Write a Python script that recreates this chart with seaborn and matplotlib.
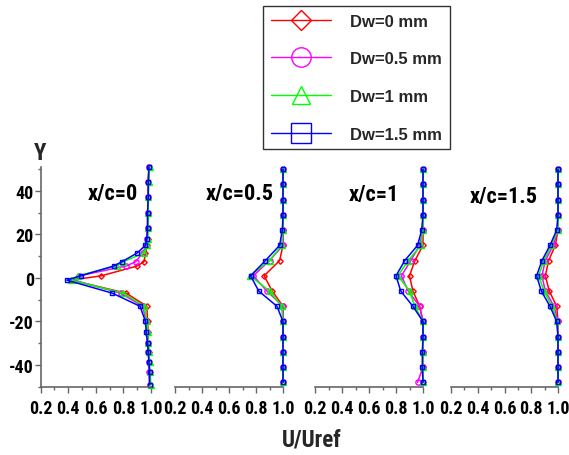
import numpy as np
import pandas as pd
import matplotlib
matplotlib.use("Agg")
import matplotlib.pyplot as plt
import seaborn as sns
from matplotlib import font_manager as fm
from matplotlib.lines import Line2D
from matplotlib.ticker import MultipleLocator, FixedLocator

# ---------------- data ----------------
series_labels = ["Dw=0 mm", "Dw=0.5 mm", "Dw=1 mm", "Dw=1.5 mm"]
series_colors = ["#ff0000", "#ff00ff", "#00ff00", "#0000ff"]
series_markers = ["D", "o", "^", "s"]
panel_titles = ["x/c=0", "x/c=0.5", "x/c=1", "x/c=1.5"]
x_ticks = [0.2, 0.4, 0.6, 0.8, 1.0]
x_tick_labels = ["0.2", "0.4", "0.6", "0.8", "1.0"]
y_ticks = [-40, -20, 0, 20, 40]

# Y positions (panel x/c=0 is sampled more densely in the wake)
y_p0 = [51, 44, 37, 30, 23, 18, 15, 11.5, 7.5, 5.5, 1, -1, -7, -13, -20, -25, -30, -34, -38.5, -43, -49]
y_pn = [50, 43, 36, 29, 22, 15, 8, 1, -6, -13, -20, -27, -34, -41, -48]

# x/c = 0
u0_dw0 = [0.985, 0.98, 0.98, 0.98, 0.975, 0.975, 0.97, 0.96, 0.95, 0.90, 0.64, 0.42, 0.82, 0.97, 0.975, 0.98, 0.98, 0.985, 0.985, 0.99, 0.99]
u0_dw05 = [0.985, 0.98, 0.98, 0.975, 0.975, 0.97, 0.965, 0.94, 0.89, 0.82, 0.48, 0.44, 0.78, 0.94, 0.965, 0.97, 0.975, 0.98, 0.985, 0.985, 0.99]
u0_dw1 = [0.99, 0.985, 0.98, 0.98, 0.98, 0.975, 0.97, 0.95, 0.80, 0.75, 0.47, 0.42, 0.80, 0.95, 0.97, 0.975, 0.98, 0.985, 0.99, 0.99, 1.0]
u0_dw15 = [0.985, 0.98, 0.98, 0.975, 0.975, 0.97, 0.96, 0.90, 0.79, 0.73, 0.49, 0.39, 0.72, 0.92, 0.96, 0.965, 0.975, 0.98, 0.985, 0.99, 0.99]

# x/c = 0.5
u05_dw0 = [1.0, 1.0, 1.0, 1.0, 1.0, 1.0, 0.975, 0.86, 0.92, 1.0, 1.0, 1.0, 1.0, 1.0, 1.0]
u05_dw05 = [1.0, 1.0, 1.0, 1.0, 1.0, 1.0, 0.90, 0.78, 0.88, 1.0, 1.0, 1.0, 1.0, 1.0, 1.0]
u05_dw1 = [1.0, 1.0, 1.0, 1.0, 1.0, 0.99, 0.90, 0.755, 0.90, 0.99, 1.0, 1.0, 1.0, 1.0, 1.0]
u05_dw15 = [1.0, 1.0, 1.0, 1.0, 0.995, 0.975, 0.87, 0.76, 0.82, 0.955, 1.0, 1.0, 1.0, 1.0, 1.0]

# x/c = 1
u1_dw0 = [1.0, 1.0, 1.0, 1.0, 1.0, 1.0, 0.94, 0.90, 0.925, 0.975, 1.0, 1.0, 1.0, 1.0, 1.0]
u1_dw05 = [1.0, 1.0, 1.0, 1.0, 1.0, 0.975, 0.91, 0.84, 0.89, 0.975, 1.0, 1.0, 1.0, 1.0, 0.96]
u1_dw1 = [1.0, 1.0, 1.0, 1.0, 1.0, 0.985, 0.89, 0.815, 0.90, 0.94, 1.0, 1.0, 1.0, 1.0, 1.0]
u1_dw15 = [1.0, 1.0, 1.0, 1.0, 0.99, 0.96, 0.865, 0.80, 0.835, 0.925, 1.0, 1.0, 0.995, 0.995, 1.0]

# x/c = 1.5
u15_dw0 = [1.0, 1.0, 1.0, 1.0, 1.0, 0.98, 0.93, 0.905, 0.935, 0.99, 1.0, 1.0, 1.0, 1.0, 1.0]
u15_dw05 = [1.0, 1.0, 1.0, 1.0, 1.0, 0.965, 0.905, 0.88, 0.905, 0.97, 1.0, 1.0, 1.0, 1.0, 1.0]
u15_dw1 = [1.0, 1.0, 1.0, 1.0, 1.0, 0.95, 0.895, 0.855, 0.895, 0.955, 0.995, 1.0, 1.0, 1.0, 1.0]
u15_dw15 = [1.0, 1.0, 1.0, 1.0, 0.99, 0.94, 0.88, 0.84, 0.875, 0.94, 0.99, 1.0, 1.0, 1.0, 1.0]

panels = [
    (y_p0, [u0_dw0, u0_dw05, u0_dw1, u0_dw15]),
    (y_pn, [u05_dw0, u05_dw05, u05_dw1, u05_dw15]),
    (y_pn, [u1_dw0, u1_dw05, u1_dw1, u1_dw15]),
    (y_pn, [u15_dw0, u15_dw05, u15_dw1, u15_dw15]),
]

# ---------------- style ----------------
sns.set_theme(style="ticks")


def _is_bold(w):
    if isinstance(w, (int, float)):
        return w >= 700
    return str(w).lower() in ("bold", "heavy", "black", "extra bold", "demibold", "700", "800", "900")


bold_names = {f.name for f in fm.fontManager.ttflist if _is_bold(f.weight) and f.style == "normal"}
NARROW = "Liberation Sans"
for cand in ["Liberation Sans Narrow", "Arial Narrow", "Roboto Condensed", "PT Sans Narrow",
             "Fira Sans Condensed", "IBM Plex Sans Condensed", "Open Sans Condensed",
             "Noto Sans Condensed", "Barlow Semi Condensed", "Asap Condensed"]:
    if cand in bold_names:
        NARROW = cand
        break

plt.rcParams["font.family"] = [NARROW, "DejaVu Sans"]
plt.rcParams["font.weight"] = "bold"

W, H = 569, 456
fig = plt.figure(figsize=(W / 100, H / 100), dpi=100)
fig.patch.set_facecolor("white")

panel_px = [(40.7, 151), (175, 283), (315, 423), (451, 558)]
top_px, bot_px = 168.0, 387.75
marker_sizes = [2.8, 3.8, 4.0, 3.5]
spine_col = "#666666"

title_pos = [(113, 194), (240, 194), (374, 194.5), (504, 197)]

for i, ((yv, us), (l, r)) in enumerate(zip(panels, panel_px)):
    ax = fig.add_axes([l / W, 1 - bot_px / H, (r - l) / W, (bot_px - top_px) / H])
    ax.set_facecolor("none")
    for u, lab, c, m, ms in zip(us, series_labels, series_colors, series_markers, marker_sizes):
        df = pd.DataFrame({"U": u, "Y": yv})
        sns.lineplot(data=df, x="U", y="Y", orient="y", estimator=None, sort=True,
                     color=c, marker=m, ms=ms, mfc="none", mec=c, mew=1.0,
                     lw=1.1, ax=ax, legend=False, clip_on=False)
    ax.set_xlim(0.2, 1.0)
    ax.set_ylim(-50, 51)
    ax.set_xlabel("")
    ax.set_ylabel("")
    ax.xaxis.set_major_locator(FixedLocator(x_ticks))
    ax.set_xticklabels(x_tick_labels)
    ax.xaxis.set_minor_locator(MultipleLocator(0.1))
    ax.tick_params(axis="x", which="major", length=4, width=1, color=spine_col,
                   labelsize=13, pad=5, labelcolor="black")
    ax.tick_params(axis="x", which="minor", length=2.5, width=1, color=spine_col)
    for s in ["top", "right"]:
        ax.spines[s].set_visible(False)
    ax.spines["bottom"].set_color(spine_col)
    ax.spines["bottom"].set_linewidth(1.2)
    if i == 0:
        ax.spines["left"].set_color(spine_col)
        ax.spines["left"].set_linewidth(1.2)
        ax.yaxis.set_major_locator(FixedLocator(y_ticks))
        ax.set_yticklabels([str(t) for t in y_ticks])
        ax.yaxis.set_minor_locator(MultipleLocator(10))
        ax.tick_params(axis="y", which="major", length=4, width=1, color=spine_col,
                       labelsize=13, pad=1, labelcolor="black")
        ax.tick_params(axis="y", which="minor", length=2.5, width=1, color=spine_col)
    else:
        ax.spines["left"].set_visible(False)
        ax.tick_params(axis="y", which="both", left=False, labelleft=False)
    tx, ty = title_pos[i]
    fig.text(tx / W, 1 - ty / H, panel_titles[i], ha="center", va="center",
             fontsize=16, fontweight="bold", color="black")

fig.text(40 / W, 1 - 153 / H, "Y", ha="center", va="center", fontsize=16.5, fontweight="bold")
fig.text(312 / W, 1 - 440 / H, "U/Uref", ha="center", va="center", fontsize=16.5, fontweight="bold")

# legend
leg_ms = [10.2, 14.0, 12.5, 14.0]
handles = [Line2D([], [], color=c, marker=m, ms=ms, mfc="none", mec=c, mew=1.0, lw=1.0)
           for c, m, ms in zip(series_colors, series_markers, leg_ms)]
leg = fig.legend(handles, series_labels, loc="upper left",
                 bbox_to_anchor=(263 / W, 1 - 7 / H), borderaxespad=0,
                 frameon=True, fancybox=False, edgecolor="black",
                 prop={"family": ["Liberation Sans", "DejaVu Sans"], "weight": "bold", "size": 12},
                 handlelength=3.6, handletextpad=1.2, labelspacing=1.36, borderpad=0.45)
leg.get_frame().set_linewidth(1.0)

fig.savefig("out.png", dpi=100, facecolor="white")
